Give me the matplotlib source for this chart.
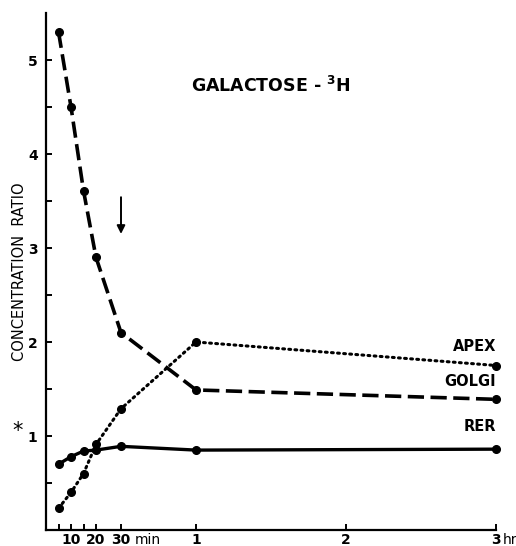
import numpy as np
import matplotlib.pyplot as plt

plt.rcParams['font.family'] = 'DejaVu Sans'
plt.rcParams['mathtext.default'] = 'regular'

# time in minutes
minutes = [5, 10, 15, 20, 30, 60, 180]
golgi = [5.30, 4.50, 3.61, 2.90, 2.10, 1.49, 1.39]
apex = [0.23, 0.40, 0.60, 0.91, 1.29, 2.00, 1.75]
rer = [0.70, 0.78, 0.84, 0.85, 0.89, 0.85, 0.86]

xtick_pos = [10, 20, 30, 60, 120, 180]
xtick_lab = ['10', '20', '30', '1', '2', '3']
xminor = [5, 15]

fig = plt.figure(figsize=(5.16, 5.46), dpi=100)
ax = fig.add_axes([46/516, 16/546, 450/516, 517/546])

ax.plot(minutes, golgi, color='k', lw=2.6, ls=(0, (4.5, 1.8)), marker='o', ms=5.5, clip_on=False)
ax.plot(minutes, apex, color='k', lw=2.2, ls=(0, (0.6, 1.4)), dash_capstyle='round',
        marker='o', ms=5.5, clip_on=False)
ax.plot(minutes, rer, color='k', lw=2.4, ls='-', marker='o', ms=5.5, clip_on=False)

ax.set_xlim(0, 180)
ax.set_ylim(0, 5.5)
ax.spines['top'].set_visible(False)
ax.spines['right'].set_visible(False)
ax.spines['left'].set_linewidth(1.6)
ax.spines['bottom'].set_linewidth(1.6)

ax.set_yticks([1, 2, 3, 4, 5])
ax.set_yticklabels(['1', '2', '3', '4', '5'], fontsize=10, fontweight='bold')
ax.set_yticks([0.5, 1.5, 2.5, 3.5, 4.5], minor=True)
ax.set_xticks(xtick_pos)
ax.set_xticklabels(xtick_lab, fontsize=10, fontweight='bold')
ax.set_xticks(xminor, minor=True)
ax.tick_params(axis='both', which='both', direction='in', length=4, width=1.4)
ax.tick_params(axis='y', pad=6)
ax.tick_params(axis='x', pad=2)

ax.annotate('min', xy=(35.5, 0), xycoords=ax.get_xaxis_transform(), xytext=(0, -2),
            textcoords='offset points', fontsize=10, va='top', ha='left')
ax.annotate('hr', xy=(182.5, 0), xycoords=ax.get_xaxis_transform(), xytext=(0, -2),
            textcoords='offset points', fontsize=10, va='top', ha='left')
ax.text(-0.051, 1.05, '*', transform=ax.get_yaxis_transform(), fontsize=15,
        va='center', ha='right')

ax.set_ylabel('CONCENTRATION  RATIO', fontsize=10.5, labelpad=1)

ax.text(58, 4.72, 'GALACTOSE - $^3$H', fontsize=12.5, fontweight='bold', va='center')
ax.annotate('', xy=(30, 3.12), xytext=(30, 3.57),
            arrowprops=dict(arrowstyle='-|>', color='k', lw=1.4, mutation_scale=12))

ax.text(180, 1.87, 'APEX', fontsize=10.5, fontweight='bold', ha='right', va='bottom')
ax.text(180, 1.50, 'GOLGI', fontsize=10.5, fontweight='bold', ha='right', va='bottom')
ax.text(180, 1.02, 'RER', fontsize=10.5, fontweight='bold', ha='right', va='bottom')

fig.savefig('out.png', dpi=100)
